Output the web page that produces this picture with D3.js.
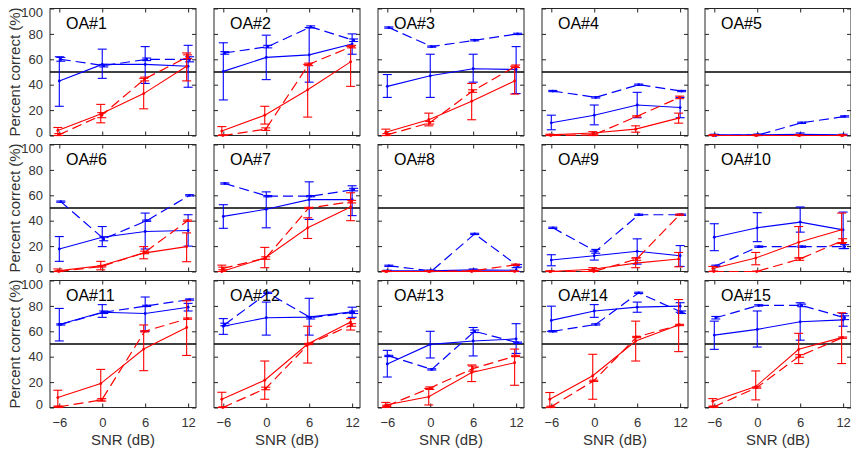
<!DOCTYPE html>
<html><head><meta charset="utf-8">
<script src="https://cdn.jsdelivr.net/npm/d3@7"></script>
<style>body{margin:0;background:#fff}svg{display:block}text{font-family:"Liberation Sans",Arial,Helvetica,sans-serif}</style>
</head><body><svg id="c" width="851" height="452"></svg>
<script>
// ---------- data ----------
const snr = [-6, 0, 6, 12];
const panelNames = ["OA#1","OA#2","OA#3","OA#4","OA#5","OA#6","OA#7","OA#8","OA#9","OA#10","OA#11","OA#12","OA#13","OA#14","OA#15"];
const yTicks = [0, 20, 40, 60, 80, 100];
const refLevel = 50;
const xLabel = "SNR (dB)";
const yLabel = "Percent correct (%)";

const blueSolid = [
 [43,56,56,54.5],[50.5,61.5,63.5,72],[38.7,47,52.6,52],[10,16,24,22],[0.5,0.5,1,0.5],
 [17.7,27,31.5,32.3],[43.4,49,56.6,56.6],[0.5,0.5,1.3,1],[9,12.4,15.9,12.4],[27,34.4,38.9,32.8],
 [65.4,75,74,79],[64,70.7,71.2,75.4],[34.3,49.7,52.4,54],[68.6,76,79,79.8],[57,61.5,67.5,69]];
const blueSolidLo = [
 [23,45,41,38],[28,44,42,64],[30,30,42,33],[4.5,8.4,14,14],[0,0,0,0],
 [8,19.6,17.7,20],[34,34.4,41,44],[0,0,0,0],[4.5,9,5.8,4],[16.4,23.5,31,18],
 [52.4,71,60,76],[57.6,57,57,71],[24,39,40.6,42.6],[60,71,75,75],[45.8,47.6,53,64]];
const blueSolidHi = [
 [62,68,70,71],[73,79,85,80],[48,64,64,70],[16,24,34,30],[1,1,2,1],
 [27.5,35.4,46,44.7],[52.6,62.7,70.6,67.5],[1,1,2,3],[13.2,16,25.7,20.4],[37.6,46.3,50.8,46.8],
 [78,81,87,82],[70,83,86,79],[45,60,63,66],[79.8,81,83,82.5],[68,76,82.5,74]];

const blueDashed = [
 [60,55,60,60],[65,70,85.5,75],[85,70,75,80],[35,30,40,35],[0,0.5,10,15],
 [55,25.7,40,60],[69.3,59.3,59.3,64.5],[4.5,0.5,29.6,4.5],[34.4,15.9,44.7,44.7],[4.5,19.6,19.6,19.6],
 [65.4,75,80,85],[65.4,90.3,70.7,75],[40.6,30,60,51],[60,65.4,90.3,75],[70.7,80.4,80.4,70.7]];
const blueDashedErr = [
 [1.5,1,1,2],[1,1,0.8,1],[0.5,0.5,0.5,0.5],[0.5,0.5,0.5,0.5],[0.5,0.5,0.5,0.5],
 [0.5,1.5,0.5,0.5],[0.5,0.5,0.5,1],[0.5,0.5,0.5,1],[0.5,1.5,0.5,0.5],[0.5,0.5,0.5,1.5],
 [0.5,1,0.5,0.5],[1,0.5,1,1],[0.5,0.5,1,0.5],[0.5,0.5,0.5,1],[1,0.5,1,1.5]];

const redSolid = [
 [4,17,33,54.5],[3.5,16,36,58],[2.6,12.4,27,43],[0.5,2,5,13.7],[0,0,0,0],
 [0.5,4.5,14.5,19.6],[0,10.6,34.4,50.8],[0,0,0,0],[0,1.8,6.6,9.8],[2.4,10.6,23,32.8],
 [7.8,18.8,46,63],[6.5,21.5,50,67.3],[2,8.4,27.5,35.3],[6.5,25,52.4,65],[5,16.5,45.8,55]];
const redSolidLo = [
 [0,10,21,43],[0,9,14.5,38.7],[0,7.6,12.4,32.6],[0,0,2.6,9.7],[0,0,0,0],
 [0,1.3,10,7.7],[0,3,26,40],[0,0,0,0],[0,1,3,3.7],[0,5.3,10.6,22],
 [1,5.8,29,41],[0,6.5,35,61],[0,2,20.4,17.5],[0,6.5,36.6,44],[1,6,34.6,34.6]];
const redSolidHi = [
 [6.3,24.5,45,65],[7,23,56,70],[5,17.6,41,54.5],[1,3,7.6,17.6],[0.5,0.5,0.5,0.5],
 [2,8,19.6,30.4],[5,19,42.3,62],[0.5,0.5,0.5,0.5],[0.5,3,10.6,15],[4,15,35.4,46],
 [13.6,30,65,84],[12,36.6,64,70],[4,15,33.5,46],[11.8,41.9,68,85],[7,28.8,58.4,74.6]];

const redDashed = [
 [0.5,16,44.5,62],[0,5,56,70],[0.5,10,35,54.5],[0,0.5,15,30],[0,0,0,0],
 [0,4,15,40],[2.4,10.6,50,55],[0,0,0.5,5.3],[0,0,9.8,44.7],[0,0,9.8,24.3],
 [0.5,6,60,70],[0,15,50,65],[1.3,15.2,30.6,40.6],[0.5,21,55.5,65],[0.5,15.7,40.6,55]];
const redDashedErr = [
 [1,2,1.5,1.5],[0.5,1,1,1],[1,1,1,1],[0.5,0.5,0.5,1],[0.3,0.3,0.3,0.3],
 [0.5,0.5,1,0.5],[1,1,0.5,1],[0.3,0.3,0.3,0.5],[0.3,0.3,1,0.5],[0.3,0.3,1,1.5],
 [0.5,1,0.5,0.5],[0.5,1,0.5,1],[0.5,1,2,0.5],[0.5,0.5,0.5,0.5],[0.5,0.5,1,0.5]];

// ---------- layout / style ----------
const svg = d3.select("#c");
const colLeft = [50, 214, 378, 542, 705];
const rowTop = [8.5, 144.5, 280.5];
const pw = 146, ph = 127;
const axisCol = "#262626";
const BLUE = "#0000ff", RED = "#ff0000";

const series = [
  {v: blueSolid, lo: (p,i)=>blueSolidLo[p][i], hi: (p,i)=>blueSolidHi[p][i], color: BLUE, dash: null, dx: 0, w: 1.1},
  {v: blueDashed, lo: (p,i)=>blueDashed[p][i]-blueDashedErr[p][i], hi: (p,i)=>blueDashed[p][i]+blueDashedErr[p][i], color: BLUE, dash: "10,5", dx: 1.5, w: 1.2},
  {v: redSolid, lo: (p,i)=>redSolidLo[p][i], hi: (p,i)=>redSolidHi[p][i], color: RED, dash: null, dx: -1.5, w: 1.1},
  {v: redDashed, lo: (p,i)=>redDashed[p][i]-redDashedErr[p][i], hi: (p,i)=>redDashed[p][i]+redDashedErr[p][i], color: RED, dash: "10,5", dx: -0.5, w: 1.2}
];

panelNames.forEach((name, p) => {
  const col = p % 5, row = Math.floor(p / 5);
  const x0 = colLeft[col], y0 = rowTop[row];
  const x = d3.scaleLinear().domain([-7.3, 13.1]).range([x0, x0 + pw]);
  const y = d3.scaleLinear().domain([0, 100]).range([y0 + ph, y0]);
  const g = svg.append("g");

  g.append("rect").attr("x", x0).attr("y", y0).attr("width", pw).attr("height", ph)
    .attr("fill", "none").attr("stroke", axisCol).attr("stroke-width", 1);

  const showY = col === 0, showX = row === 2;
  const ax = (gen, tr) => {
    const a = g.append("g").attr("transform", tr).call(gen);
    a.select(".domain").remove();
    a.selectAll(".tick line").attr("stroke", axisCol);
    a.selectAll(".tick text").attr("fill", "#333").style("font-size", "13px");
    return a;
  };
  const yAx = ax(d3.axisLeft(y).tickValues(yTicks).tickSizeInner(-4).tickSizeOuter(0).tickPadding(7)
      .tickFormat(showY ? d3.format("d") : ""), `translate(${x0},0)`);
  // nudge the extreme labels apart slightly so stacked rows don't collide
  yAx.selectAll(".tick text").attr("dy", d => d === 0 ? "0.1em" : d === 100 ? "0.58em" : "0.32em");
  ax(d3.axisRight(y).tickValues(yTicks).tickSizeInner(-4).tickSizeOuter(0).tickFormat(""), `translate(${x0+pw},0)`);
  ax(d3.axisBottom(x).tickValues(snr).tickSizeInner(-4).tickSizeOuter(0).tickPadding(10)
      .tickFormat(showX ? d3.format("d") : ""), `translate(0,${y0+ph})`);
  ax(d3.axisTop(x).tickValues(snr).tickSizeInner(-4).tickSizeOuter(0).tickFormat(""), `translate(0,${y0})`);

  g.append("line").attr("x1", x0).attr("x2", x0 + pw).attr("y1", y(refLevel)).attr("y2", y(refLevel))
    .attr("stroke", "#000").attr("stroke-width", 1.5);

  series.forEach(s => {
    const pts = snr.map((d, i) => ({xv: x(d) + s.dx, v: s.v[p][i], lo: s.lo(p, i), hi: s.hi(p, i)}));
    g.append("path").datum(pts)
      .attr("d", d3.line().x(d => d.xv).y(d => y(d.v)))
      .attr("fill", "none").attr("stroke", s.color).attr("stroke-width", s.w)
      .attr("stroke-dasharray", s.dash);
    const eb = g.append("g").attr("stroke", s.color).attr("stroke-width", 1.1);
    pts.forEach(d => {
      const lo = Math.max(0, d.lo), hi = Math.min(100, d.hi);
      eb.append("line").attr("x1", d.xv).attr("x2", d.xv).attr("y1", y(lo)).attr("y2", y(hi));
      eb.append("line").attr("x1", d.xv - 4.5).attr("x2", d.xv + 4.5).attr("y1", y(lo)).attr("y2", y(lo));
      eb.append("line").attr("x1", d.xv - 4.5).attr("x2", d.xv + 4.5).attr("y1", y(hi)).attr("y2", y(hi));
    });
    g.append("g").selectAll("circle").data(pts).join("circle")
      .attr("cx", d => d.xv).attr("cy", d => y(d.v)).attr("r", 1.4).attr("fill", s.color);
  });

  g.append("text").attr("x", x0 + 16).attr("y", y0 + 20).text(name)
    .style("font-size", "16px").attr("fill", "#000");

  if (showY) {
    g.append("text").attr("transform", `translate(20,${y0 + ph / 2}) rotate(-90)`)
      .attr("text-anchor", "middle").style("font-size", "15px").attr("fill", "#333").text(yLabel);
  }
  if (showX) {
    g.append("text").attr("x", x0 + pw / 2).attr("y", 445).attr("text-anchor", "middle")
      .style("font-size", "15px").attr("fill", "#333").text(xLabel);
  }
});
</script></body></html>
